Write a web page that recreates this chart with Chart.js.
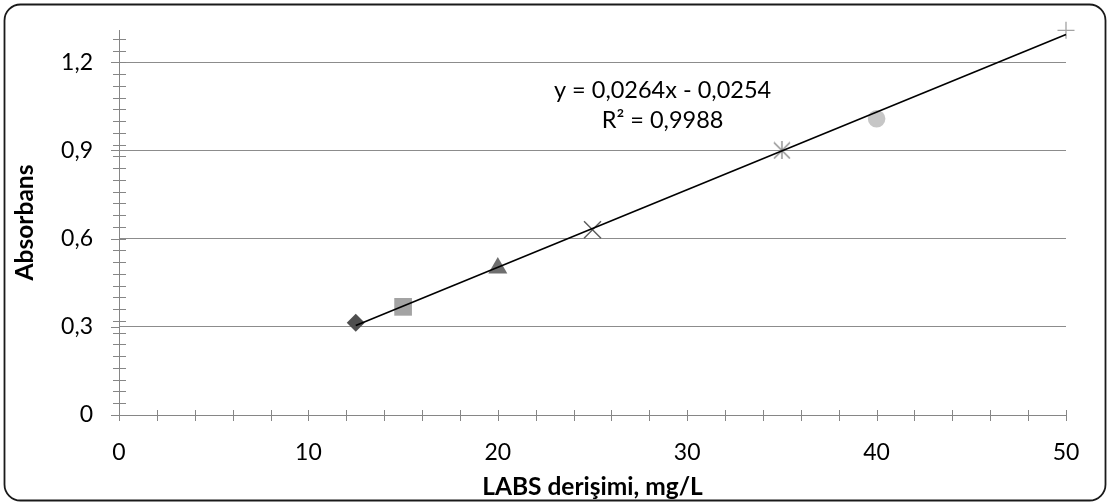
<!DOCTYPE html>
<html>
<head>
<meta charset="utf-8">
<script src="https://cdn.jsdelivr.net/npm/chart.js@4.4.1/dist/chart.umd.min.js"></script>
<style>
    html, body { margin: 0; padding: 0; background: #fff; }
    #wrap { width: 1108px; height: 502px; position: relative; }
</style>
</head>
<body>
<div id="wrap"><canvas id="absChart"></canvas></div>
<script>
/*** Data ***/
const concentrations = [12.5, 15, 20, 25, 35, 40, 50];
const absorbances = [0.314, 0.368, 0.500, 0.630, 0.900, 1.008, 1.309];

/*** Trendline (Excel linear fit) ***/
const trendSlope = 0.0264;
const trendIntercept = -0.0254;
const trendFrom = 12.5;
const trendTo = 50;
const equationLines = ['y = 0,0264x - 0,0254', 'R² = 0,9988'];

/*** Axis labels ***/
const xTitle = 'LABS derişimi, mg/L';
const yTitle = 'Absorbans';

/*** Styles ***/
const fontFamily = 'Lato, "Open Sans", sans-serif';
const axisColor = '#868686';
const gridColor = '#8c8c8c';

// Excel-like star marker: an X with a vertical bar
function makeStar(size, color) {
    const c = document.createElement('canvas');
    c.width = size; c.height = size;
    const g = c.getContext('2d');
    g.strokeStyle = color;
    g.lineWidth = 1.3;
    g.beginPath();
    g.moveTo(1, 1); g.lineTo(size - 1, size - 1);
    g.moveTo(size - 1, 1); g.lineTo(1, size - 1);
    g.moveTo(size / 2, 0); g.lineTo(size / 2, size);
    g.stroke();
    return c;
}

const markerStyles = ['rectRot', 'rect', 'triangle', 'crossRot', makeStar(18, '#858585'), 'circle', 'cross'];
const markerColors = ['#4f4f4f', '#a3a3a3', '#6e6e6e', '#5a5a5a', '#858585', '#c6c6c6', '#a3a3a3'];
const markerRadius = [9, 12.5, 11, 12, 9, 8.8, 8.5];
const markerBorder = [0, 0, 0, 1.4, 1.4, 0, 1.3];

/*** Plugins ***/
const frame = {
    id: 'frame',
    beforeDraw(chart) {
        const ctx = chart.ctx;
        ctx.save();
        ctx.fillStyle = '#fff';
        ctx.fillRect(0, 0, chart.width, chart.height);
        ctx.strokeStyle = '#1a1a1a';
        ctx.lineWidth = 1.8;
        ctx.beginPath();
        ctx.roundRect(4.5, 4.5, chart.width - 7, chart.height - 6, 16);
        ctx.stroke();
        ctx.restore();
    }
};

const crossTicks = {
    id: 'crossTicks',
    afterDraw(chart) {
        const ctx = chart.ctx;
        const xs = chart.scales.x, ys = chart.scales.y;
        const axisY = ys.getPixelForValue(0);
        const axisX = xs.getPixelForValue(0);
        ctx.save();
        ctx.strokeStyle = axisColor;
        ctx.lineWidth = 1;
        ctx.beginPath();
        for (let v = 0; v <= xs.max + 1e-9; v += 2) {
            const px = Math.round(xs.getPixelForValue(v)) + 0.5;
            ctx.moveTo(px, axisY - 5);
            ctx.lineTo(px, axisY + 6);
        }
        for (let v = 0; v <= ys.max + 1e-9; v += 0.04) {
            const py = Math.round(ys.getPixelForValue(v)) + 0.5;
            ctx.moveTo(axisX - 6, py);
            ctx.lineTo(axisX + 7, py);
        }
        for (let v = 0; v <= ys.max + 1e-9; v += 0.3) {
            const py = Math.round(ys.getPixelForValue(v)) + 0.5;
            ctx.moveTo(axisX - 8, py);
            ctx.lineTo(axisX, py);
        }
        ctx.stroke();
        ctx.restore();
    }
};

const equation = {
    id: 'equation',
    afterDatasetsDraw(chart) {
        const ctx = chart.ctx;
        const cx = chart.scales.x.getPixelForValue(28.7);
        const cy = chart.scales.y.getPixelForValue(1.105);
        ctx.save();
        ctx.fillStyle = '#000';
        ctx.font = '23.5px ' + fontFamily;
        ctx.textAlign = 'center';
        ctx.textBaseline = 'middle';
        equationLines.forEach(function (line, i) {
            ctx.fillText(line, cx, cy + i * 30);
        });
        ctx.restore();
    }
};

/*** Chart ***/
const trendPoints = [trendFrom, trendTo].map(function (x) {
    return {x: x, y: trendSlope * x + trendIntercept};
});

new Chart(document.getElementById('absChart'), {
    type: 'scatter',
    data: {
        datasets: [
            {
                type: 'line',
                label: 'Doğrusal',
                data: trendPoints,
                borderColor: '#000',
                borderWidth: 1.6,
                pointRadius: 0,
                fill: false,
                order: 0
            },
            {
                label: 'Absorbans',
                data: concentrations.map(function (c, i) { return {x: c, y: absorbances[i]}; }),
                pointStyle: markerStyles,
                pointRadius: markerRadius,
                pointBackgroundColor: markerColors,
                pointBorderColor: markerColors,
                pointBorderWidth: markerBorder,
                order: 1
            }
        ]
    },
    options: {
        responsive: true,
        maintainAspectRatio: false,
        animation: false,
        clip: false,
        layout: {
            padding: {top: 30, right: 42, bottom: 0, left: 0}
        },
        plugins: {
            legend: {display: false},
            tooltip: {enabled: false}
        },
        scales: {
            x: {
                type: 'linear',
                min: 0,
                max: 50,
                afterFit: function (scale) {
                    scale.height = 87;
                    scale.paddingLeft = 0;
                    scale.paddingRight = 0;
                },
                grid: {display: false},
                border: {display: true, color: axisColor, width: 1},
                ticks: {
                    stepSize: 10,
                    padding: 16,
                    color: '#000',
                    font: {family: fontFamily, size: 23}
                },
                title: {
                    display: true,
                    text: xTitle,
                    color: '#000',
                    font: {family: fontFamily, size: 24.5, weight: 'bold'},
                    padding: {top: 4, bottom: 0}
                }
            },
            y: {
                type: 'linear',
                min: 0,
                max: 1.31,
                afterFit: function (scale) {
                    scale.width = 119;
                    scale.paddingTop = 0;
                    scale.paddingBottom = 0;
                },
                grid: {
                    color: gridColor,
                    drawTicks: false,
                    lineWidth: 1
                },
                border: {display: true, color: axisColor, width: 1},
                ticks: {
                    stepSize: 0.3,
                    includeBounds: false,
                    padding: 26,
                    color: '#000',
                    font: {family: fontFamily, size: 23},
                    callback: function (value) {
                        return value === 0 ? '0' : value.toFixed(1).replace('.', ',');
                    }
                },
                title: {
                    display: true,
                    text: yTitle,
                    color: '#000',
                    font: {family: fontFamily, size: 24.5, weight: 'bold'},
                    padding: {top: 10, bottom: 0}
                }
            }
        }
    },
    plugins: [frame, crossTicks, equation]
});
</script>
</body>
</html>
